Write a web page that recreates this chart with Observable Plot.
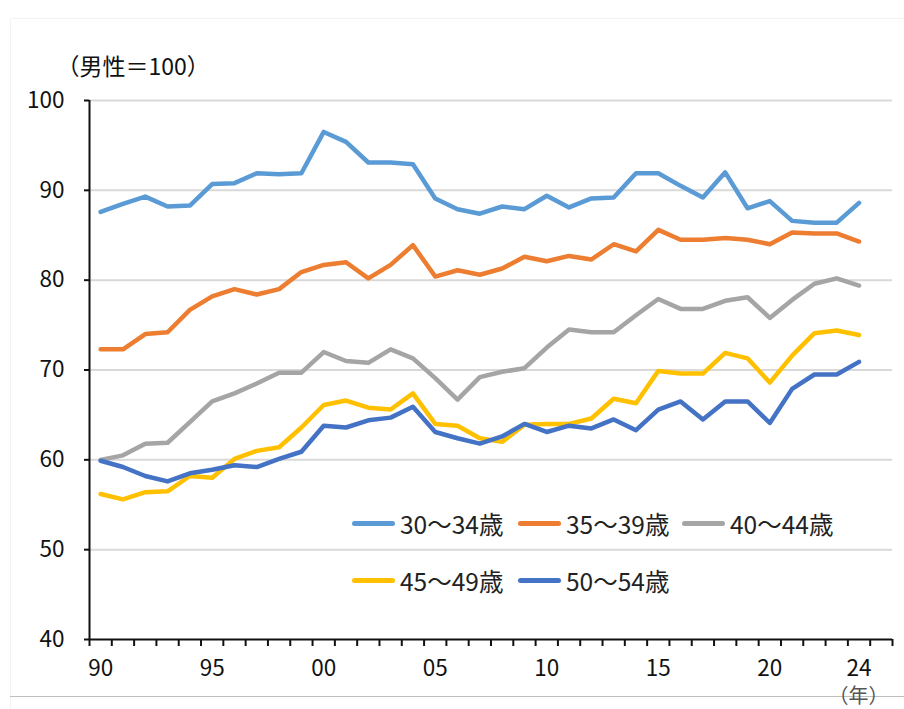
<!DOCTYPE html>
<html lang="ja">
<head>
<meta charset="utf-8">
<script src="https://cdn.jsdelivr.net/npm/d3@7"></script>
<script src="https://cdn.jsdelivr.net/npm/@observablehq/plot@0.6"></script>
<style>
  html, body { margin: 0; padding: 0; background: #fff; }
  #wrap { position: relative; width: 904px; height: 709px; overflow: hidden;
          font-family: "Noto Sans CJK JP", "Noto Sans", sans-serif; }
  #frame { position: absolute; left: 10px; top: 18px; width: 900px; height: 700px;
           border: 1px solid #f3f3f3; box-sizing: border-box; }
  #baseRule { position: absolute; left: 10px; top: 696px; width: 894px; height: 0;
              border-top: 1px solid #bdbdbd; }
  .legend { position: absolute; display: flex; align-items: center; font-size: 24.5px;
            color: #222; white-space: nowrap; }
  .legend .sw { display: inline-block; width: 43px; height: 5px; border-radius: 3px; margin-right: 5px; }
  svg text { font-family: "Noto Sans CJK JP", "Noto Sans", sans-serif; }
</style>
</head>
<body>
<div id="wrap">
  <div id="frame"></div>
  <div id="baseRule"></div>
  <div id="chart"></div>
</div>
<script>
// Women's wages relative to men's (men = 100), by age group, 1990–2024
const years = [1990, 1991, 1992, 1993, 1994, 1995, 1996, 1997, 1998, 1999,
               2000, 2001, 2002, 2003, 2004, 2005, 2006, 2007, 2008, 2009,
               2010, 2011, 2012, 2013, 2014, 2015, 2016, 2017, 2018, 2019,
               2020, 2021, 2022, 2023, 2024];

const age30to34 = [87.6, 88.5, 89.3, 88.2, 88.3, 90.7, 90.8, 91.9, 91.8, 91.9,
                   96.5, 95.4, 93.1, 93.1, 92.9, 89.1, 87.9, 87.4, 88.2, 87.9,
                   89.4, 88.1, 89.1, 89.2, 91.9, 91.9, 90.5, 89.2, 92.0, 88.0,
                   88.8, 86.6, 86.4, 86.4, 88.6];
const age35to39 = [72.3, 72.3, 74.0, 74.2, 76.7, 78.2, 79.0, 78.4, 79.0, 80.9,
                   81.7, 82.0, 80.2, 81.7, 83.9, 80.4, 81.1, 80.6, 81.3, 82.6,
                   82.1, 82.7, 82.3, 84.0, 83.2, 85.6, 84.5, 84.5, 84.7, 84.5,
                   84.0, 85.3, 85.2, 85.2, 84.3];
const age40to44 = [60.0, 60.5, 61.8, 61.9, 64.2, 66.5, 67.4, 68.5, 69.7, 69.7,
                   72.0, 71.0, 70.8, 72.3, 71.3, 69.1, 66.7, 69.2, 69.8, 70.2,
                   72.5, 74.5, 74.2, 74.2, 76.1, 77.9, 76.8, 76.8, 77.7, 78.1,
                   75.8, 77.8, 79.6, 80.2, 79.4];
const age45to49 = [56.2, 55.6, 56.4, 56.5, 58.2, 58.0, 60.1, 61.0, 61.4, 63.6,
                   66.1, 66.6, 65.8, 65.6, 67.4, 64.0, 63.8, 62.4, 62.0, 63.9,
                   64.0, 64.0, 64.6, 66.8, 66.3, 69.9, 69.6, 69.6, 71.9, 71.3,
                   68.6, 71.6, 74.1, 74.4, 73.9];
const age50to54 = [59.9, 59.2, 58.2, 57.6, 58.5, 58.9, 59.4, 59.2, 60.1, 60.9,
                   63.8, 63.6, 64.4, 64.7, 65.9, 63.1, 62.4, 61.8, 62.6, 64.0,
                   63.1, 63.8, 63.5, 64.5, 63.3, 65.6, 66.5, 64.5, 66.5, 66.5,
                   64.1, 67.9, 69.5, 69.5, 70.9];

const seriesNames = ["30～34歳", "35～39歳", "40～44歳", "45～49歳", "50～54歳"];
const seriesColors = ["#5B9BD5", "#ED7D31", "#A5A5A5", "#FFC000", "#4472C4"];
const seriesValues = [age30to34, age35to39, age40to44, age45to49, age50to54];

const yTicks = [40, 50, 60, 70, 80, 90, 100];
const xLabelYears = [1990, 1995, 2000, 2005, 2010, 2015, 2020, 2024];
const yUnitLabel = "（男性＝100）";
const xUnitLabel = "（年）";

// Long-format table for the line marks
const rows = [];
seriesNames.forEach((name, s) => {
  years.forEach((yr, i) => rows.push({series: name, year: yr, value: seriesValues[s][i]}));
});

// Category boundaries (one slot per year, plus an empty slot after 2024)
const boundaries = d3.range(years[0] - 0.5, years[years.length - 1] + 2, 1);

const chart = Plot.plot({
  width: 904,
  height: 709,
  marginLeft: 89,
  marginRight: 12,
  marginTop: 100,
  marginBottom: 70,
  style: {background: "transparent", overflow: "visible", position: "relative"},
  x: {type: "linear", domain: [boundaries[0], boundaries[boundaries.length - 1]]},
  y: {domain: [40, 100]},
  color: {domain: seriesNames, range: seriesColors},
  marks: [
    Plot.gridY(yTicks.filter(d => d > 40), {stroke: "#d9d9d9", strokeOpacity: 1, strokeWidth: 2}),
    Plot.axisY({ticks: yTicks, tickSize: 5, tickPadding: 20, label: null,
                fontSize: 22.5, stroke: "#111", strokeWidth: 2, fill: "#111"}),
    Plot.axisX({ticks: boundaries, tickSize: 7, tickFormat: () => "", label: null,
                stroke: "#111", strokeWidth: 2}),
    Plot.axisX({ticks: xLabelYears, tickSize: 0, tickPadding: 21, label: null,
                fontSize: 22.5, fill: "#111",
                tickFormat: d => String(d % 100).padStart(2, "0")}),
    Plot.ruleX([boundaries[0]], {stroke: "#111", strokeWidth: 2}),
    Plot.ruleY([40], {stroke: "#111", strokeWidth: 2}),
    Plot.lineY(rows, {x: "year", y: "value", z: "series", stroke: "series",
                      strokeWidth: 4.5, strokeLinejoin: "round", strokeLinecap: "round"}),
    Plot.text([yUnitLabel], {frameAnchor: "top-left", text: d => d, dx: -33, dy: -33,
                             lineAnchor: "middle", textAnchor: "start", fontSize: 23, fill: "#111"}),
    Plot.text([xUnitLabel], {frameAnchor: "bottom-right", text: d => d, dx: -34, dy: 57,
                             lineAnchor: "middle", textAnchor: "middle", fontSize: 20, fill: "#555"})
  ]
});
document.getElementById("chart").appendChild(chart);

// Legend: two rows inside the plot area
const legendSlots = [
  {left: 352, top: 523}, {left: 518, top: 523}, {left: 682, top: 523},
  {left: 352, top: 580}, {left: 518, top: 580}
];
const wrap = document.getElementById("wrap");
seriesNames.forEach((name, i) => {
  const item = document.createElement("div");
  item.className = "legend";
  item.style.left = legendSlots[i].left + "px";
  item.style.top = (legendSlots[i].top - 17) + "px";
  item.style.height = "34px";
  const sw = document.createElement("span");
  sw.className = "sw";
  sw.style.background = seriesColors[i];
  const label = document.createElement("span");
  label.textContent = name;
  item.appendChild(sw);
  item.appendChild(label);
  wrap.appendChild(item);
});
</script>
</body>
</html>
